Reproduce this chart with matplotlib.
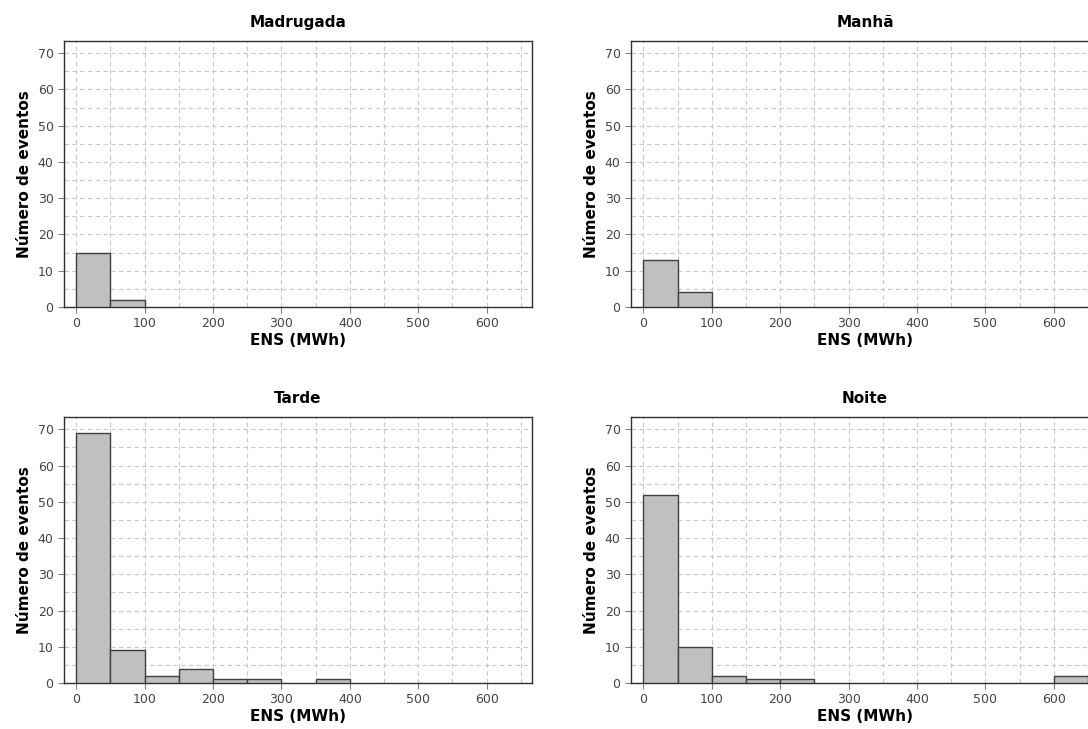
import numpy as np
import matplotlib
matplotlib.use("Agg")
import matplotlib.pyplot as plt
from matplotlib.ticker import MultipleLocator

# bin edges (MWh) and counts per period
binEdges = np.arange(0, 700, 50)
titles = ["Madrugada", "Manhã", "Tarde", "Noite"]
madrugada = [15, 2, 0, 0, 0, 0, 0, 0, 0, 0, 0, 0, 0]
manha = [13, 4, 0, 0, 0, 0, 0, 0, 0, 0, 0, 0, 0]
tarde = [69, 9, 2, 4, 1, 1, 0, 1, 0, 0, 0, 0, 0]
noite = [52, 10, 2, 1, 1, 0, 0, 0, 0, 0, 0, 0, 2]
xTicks = [0, 100, 200, 300, 400, 500, 600]
yTicks = [0, 10, 20, 30, 40, 50, 60, 70]

plt.rcParams['font.family'] = ['DejaVu Sans']

fig = plt.figure(figsize=(10.88, 7.29), dpi=100)
w, h = 0.430, 0.365
positions = [(0.0588, 0.579), (0.580, 0.579), (0.0588, 0.063), (0.580, 0.063)]
allCounts = [madrugada, manha, tarde, noite]

for title, counts, pos in zip(titles, allCounts, positions):
  ax = fig.add_axes([pos[0], pos[1], w, h])
  ax.set_axisbelow(True)
  ax.xaxis.set_major_locator(MultipleLocator(100))
  ax.xaxis.set_minor_locator(MultipleLocator(50))
  ax.yaxis.set_major_locator(MultipleLocator(10))
  ax.yaxis.set_minor_locator(MultipleLocator(5))
  ax.grid(which='both', color='#c8c8c8', linestyle=(0, (4, 3)), linewidth=0.8)
  lefts = binEdges[:-1]
  nz = [i for i in range(len(counts)) if counts[i] > 0]
  ax.bar([lefts[i] for i in nz], [counts[i] for i in nz], width=50, align='edge',
         color='#c0c0c0', edgecolor='#404040', linewidth=1.0, zorder=3)
  ax.set_xlim(-18, 666)
  ax.set_ylim(0, 73.4)
  ax.set_xticks(xTicks)
  ax.set_yticks(yTicks)
  ax.tick_params(which='major', direction='out', length=4, width=0.8, color='#808080',
                 labelsize=9, labelcolor='#444444')
  ax.tick_params(which='minor', length=0)
  for s in ax.spines.values():
    s.set_color('#303030')
    s.set_linewidth(1.0)
  ax.set_title(title, fontsize=11, fontweight='bold', pad=10)
  ax.set_xlabel('ENS (MWh)', fontsize=11, fontweight='bold', labelpad=2)
  ax.set_ylabel('Número de eventos', fontsize=11, fontweight='bold', labelpad=4)

fig.savefig('out.png', dpi=100)
